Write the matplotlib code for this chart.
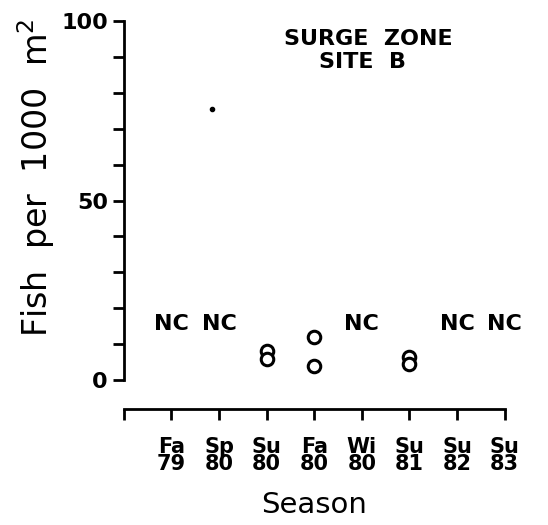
import matplotlib
matplotlib.use("Agg")
import matplotlib.pyplot as plt
from matplotlib.ticker import MultipleLocator

# data
seasons = ["Fa\n79", "Sp\n80", "Su\n80", "Fa\n80", "Wi\n80", "Su\n81", "Su\n82", "Su\n83"]
obs_x = [3, 3, 4, 4, 6, 6]
obs_y = [8.0, 6.0, 12.0, 4.0, 6.5, 4.5]
stray_x = [1.85]
stray_y = [75.5]
nc_x = [1, 2, 5, 7, 8]
nc_y = 15.5

fig = plt.figure(figsize=(5.48, 5.25), dpi=100)
ax = fig.add_axes([0.226, 0.276, 0.695, 0.684])

ax.plot(obs_x, obs_y, linestyle='none', marker='o', markersize=9,
        markerfacecolor='white', markeredgecolor='black', markeredgewidth=2.2,
        clip_on=False)
ax.plot(stray_x, stray_y, linestyle='none', marker='o', markersize=3,
        color='black')

for x in nc_x:
    ax.text(x, nc_y, "NC", ha='center', va='center', fontsize=16,
            fontweight='bold')

ax.text(0.643, 0.95, "SURGE  ZONE", transform=ax.transAxes, ha='center',
        va='center', fontsize=16, fontweight='bold')
ax.text(0.627, 0.885, "SITE  B", transform=ax.transAxes, ha='center',
        va='center', fontsize=16, fontweight='bold')

ax.set_xlim(0, 8)
ax.set_ylim(0, 100)

for s in ['top', 'right']:
    ax.spines[s].set_visible(False)
ax.spines['left'].set_linewidth(2)
ax.spines['bottom'].set_linewidth(2)
ax.spines['bottom'].set_position(('outward', 21))

ax.yaxis.set_major_locator(MultipleLocator(50))
ax.yaxis.set_minor_locator(MultipleLocator(10))
ax.tick_params(axis='y', which='both', direction='out', length=8, width=2)
ax.set_yticks([0, 50, 100])
ax.set_yticklabels(["0", "50", "100"], fontsize=16, fontweight='bold')

ax.set_xticks(range(0, 9))
ax.set_xticklabels([""] + seasons, fontsize=15, fontweight='bold',
                   linespacing=0.8)
ax.tick_params(axis='x', direction='out', length=8, width=2, pad=12)

ax.set_ylabel("Fish  per  1000  m$^2$", fontsize=24)
ax.yaxis.set_label_coords(-0.176, 0.563)
ax.set_xlabel("Season", fontsize=21, labelpad=12)

fig.savefig("out.png", dpi=100)
